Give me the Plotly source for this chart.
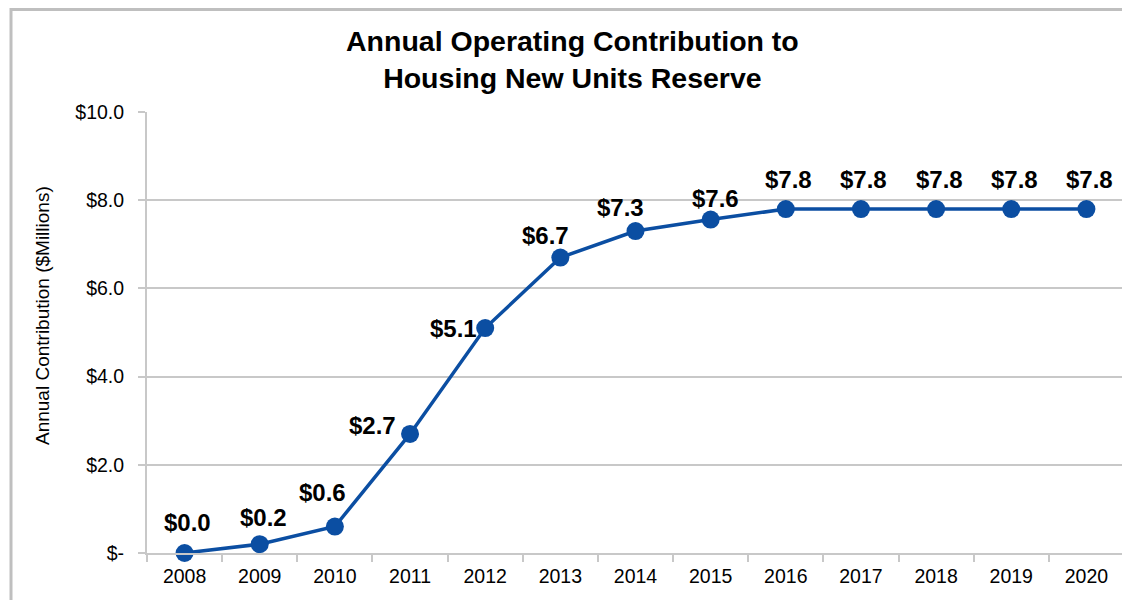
import plotly.graph_objects as go

years = ["2008", "2009", "2010", "2011", "2012", "2013", "2014",
         "2015", "2016", "2017", "2018", "2019", "2020"]
contribution = [0.0, 0.2, 0.6, 2.7, 5.1, 6.7, 7.3, 7.56, 7.8, 7.8, 7.8, 7.8, 7.8]
y_ticks = [0, 2, 4, 6, 8, 10]
y_tick_text = ["$-", "$2.0", "$4.0", "$6.0", "$8.0", "$10.0"]

# label offsets in pixels (x, y) relative to each point
label_shift = [(3, 31), (4, 27), (-12, 34), (-38, 8), (-32, 0), (-15, 22),
               (-15, 24), (5, 21), (3, 30), (3, 30), (3, 30), (3, 30), (3, 30)]

BLUE = "#0b4ea2"
GRID = "#c8c8c8"
FONT = "Liberation Sans, Arial, sans-serif"

# the page body adds an 8px margin; figure sized to fit the window
OFF = 8
W, H = 1130 - OFF, 600 - OFF
L, T = 147 - OFF, 112 - OFF
R, B = W - (1124 - OFF), H - (553 - OFF)
pw, ph = W - L - R, H - T - B


def px_to_paper(x, y):
    """page pixel -> paper coords"""
    return (x - OFF - L) / pw, (H - B - (y - OFF)) / ph


fig = go.Figure()
fig.add_trace(
    go.Scatter(
        x=years,
        y=contribution,
        mode="lines+markers",
        line={"color": BLUE, "width": 3.5},
        marker={"size": 18, "color": BLUE},
        cliponaxis=False,
        hoverinfo="x+y",
    )
)

# category axis: annotations placed by category index
for i, (value, (dx, dy)) in enumerate(zip(contribution, label_shift)):
    fig.add_annotation(
        x=i, y=value, text=f"<b>${value:.1f}</b>", showarrow=False,
        xshift=dx, yshift=dy, font={"size": 24, "color": "#000000", "family": FONT},
    )

# outer chart border
x0, y0 = px_to_paper(11, OFF + 1.5)
x1, y1 = px_to_paper(1126, 620)
fig.add_shape(type="rect", xref="paper", yref="paper", x0=x0, y0=y1, x1=x1, y1=y0,
              line={"color": "#bfbfbf", "width": 3}, layer="below")

tx, ty = px_to_paper(42, 316)
fig.add_annotation(
    xref="paper", yref="paper", x=tx, y=ty, xanchor="center", yanchor="middle",
    text="Annual Contribution ($Millions)", textangle=-90, showarrow=False,
    font={"size": 19, "color": "#000000", "family": FONT},
)

tx, ty = px_to_paper(572, 59)
fig.add_annotation(
    xref="paper", yref="paper", x=tx, y=ty, xanchor="center", yanchor="middle",
    text="<b>Annual Operating Contribution to<br>Housing New Units Reserve</b>",
    showarrow=False, font={"size": 28.5, "color": "#000000", "family": FONT},
)

fig.update_xaxes(
    type="category",
    range=[-0.5, len(years) - 0.5],
    showgrid=False,
    showline=True,
    linecolor=GRID,
    linewidth=2,
    ticks="outside",
    tickson="boundaries",
    ticklen=7,
    tickcolor=GRID,
    tickwidth=2,
    tickangle=0,
    ticklabelstandoff=5,
    tickfont={"size": 19.5, "color": "#000000", "family": FONT},
)
fig.update_yaxes(
    range=[0, 10],
    tickvals=y_ticks,
    ticktext=y_tick_text,
    showgrid=True,
    gridcolor=GRID,
    gridwidth=2,
    zeroline=False,
    showline=True,
    linecolor=GRID,
    linewidth=2,
    ticks="outside",
    ticklen=7,
    tickcolor=GRID,
    tickwidth=2,
    ticklabelstandoff=10,
    tickfont={"size": 19.5, "color": "#000000", "family": FONT},
)

fig.update_layout(
    width=W,
    height=H,
    plot_bgcolor="#ffffff",
    paper_bgcolor="#ffffff",
    showlegend=False,
    margin={"l": L, "r": R, "t": T, "b": B},
)

fig.write_html("out.html")
